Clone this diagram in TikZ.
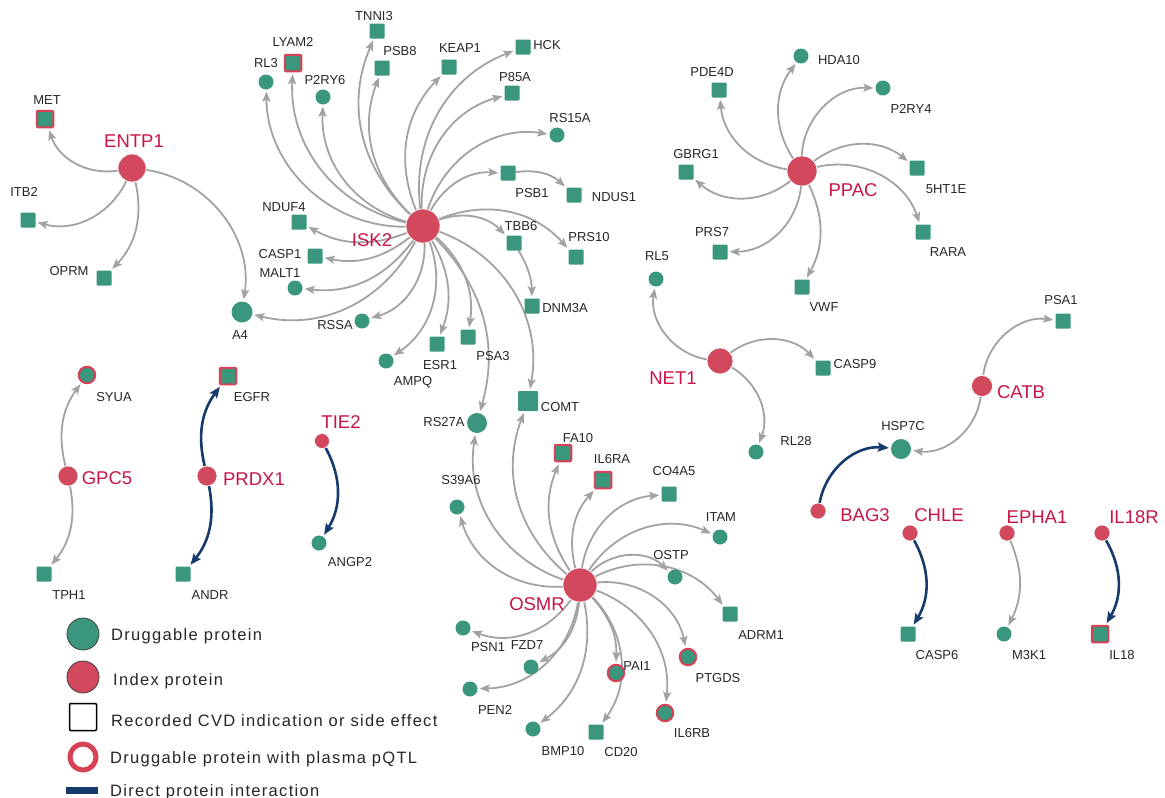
\documentclass[tikz,border=0pt]{standalone}
\usepackage{fontspec}
\setmainfont{Liberation Sans}
\newfontfamily\legfont[LetterSpace=8]{Liberation Sans}
\usetikzlibrary{arrows.meta}
\definecolor{drug}{RGB}{58,150,125}
\definecolor{hubred}{RGB}{210,72,92}
\definecolor{labred}{RGB}{200,20,70}
\definecolor{pqred}{RGB}{215,65,85}
\definecolor{edgegray}{RGB}{162,162,162}
\definecolor{navy}{RGB}{22,58,108}
\pgfdeclarelayer{bg}
\pgfsetlayers{bg,main}
\tikzset{
 dc/.style={circle, fill=drug, minimum size=15pt, inner sep=0pt},
 ds/.style={rectangle, fill=drug, minimum size=15pt, inner sep=0pt, rounded corners=1pt},
 pq/.style={draw=pqred, line width=2pt, minimum size=16.5pt},
 hub/.style={circle, fill=hubred, draw=white, line width=0.6pt, inner sep=0pt},
 lab/.style={font=\fontsize{13}{13}\selectfont, inner sep=0pt, text=black!85},
 hlab/.style={font=\fontsize{18.5}{18.5}\selectfont, inner sep=0pt, text=labred},
 leg/.style={font=\legfont\fontsize{16.5}{16.5}\selectfont, inner sep=0pt, text=black!85, anchor=base west},
 ge/.style={draw=edgegray, line width=1.8pt, -{Stealth[length=10pt,width=8pt,inset=2pt]}, shorten >=2pt, bend left=#1},
 ge/.default=35,
 be/.style={draw=navy, line width=2.6pt, -{Stealth[length=11pt,width=9pt,inset=2pt]}, shorten >=2pt, bend left=#1},
 be/.default=30
}
\begin{document}
\begin{tikzpicture}[x=1pt,y=-1pt]
\useasboundingbox (0,0) rectangle (1165,798);
% ENTP1 cluster
\node[hub, minimum size=28pt] (ENTP1) at (132,168) {};
\node[hlab] (tENTP1) at (134,141) {ENTP1};
\node[ds, pq] (MET) at (45,119) {}; \node[lab] (tMET) at (47,100) {MET};
\node[ds] (ITB2) at (28,220) {}; \node[lab] (tITB2) at (24,192) {ITB2};
\node[ds] (OPRM) at (104,278) {}; \node[lab] (tOPRM) at (69,271) {OPRM};
\node[dc, minimum size=21pt] (A4) at (242,312) {}; \node[lab] (tA4) at (240,335) {A4};
% ISK2 cluster
\node[hub, minimum size=34pt] (ISK2) at (423,226) {};
\node[hlab] (tISK2) at (372,240) {ISK2};
\node[dc] (RL3) at (266,82) {}; \node[lab] (tRL3) at (266,63) {RL3};
\node[ds, pq] (LYAM2) at (293,63) {}; \node[lab] (tLYAM2) at (293,42) {LYAM2};
\node[dc] (P2RY6) at (323,97) {}; \node[lab] (tP2RY6) at (325,80) {P2RY6};
\node[ds] (TNNI3) at (377,31) {}; \node[lab] (tTNNI3) at (374,16) {TNNI3};
\node[ds] (PSB8) at (382,68) {}; \node[lab] (tPSB8) at (400,51) {PSB8};
\node[ds] (KEAP1) at (449,67) {}; \node[lab] (tKEAP1) at (460,48) {KEAP1};
\node[ds] (HCK) at (523,47) {}; \node[lab] (tHCK) at (547,45) {HCK};
\node[ds] (P85A) at (512,93) {}; \node[lab] (tP85A) at (515,77) {P85A};
\node[dc] (RS15A) at (557,135) {}; \node[lab] (tRS15A) at (570,118) {RS15A};
\node[ds] (PSB1) at (508,173) {}; \node[lab] (tPSB1) at (532,193) {PSB1};
\node[ds] (NDUS1) at (574,195) {}; \node[lab] (tNDUS1) at (614,197) {NDUS1};
\node[ds] (NDUF4) at (299,222) {}; \node[lab] (tNDUF4) at (284,207) {NDUF4};
\node[ds] (CASP1) at (315,256) {}; \node[lab] (tCASP1) at (280,254) {CASP1};
\node[dc] (MALT1) at (295,288) {}; \node[lab] (tMALT1) at (280,273) {MALT1};
\node[dc] (RSSA) at (362,321) {}; \node[lab] (tRSSA) at (335,325) {RSSA};
\node[dc] (AMPQ) at (386,361) {}; \node[lab] (tAMPQ) at (413,382) {AMPQ};
\node[ds] (ESR1) at (437,344) {}; \node[lab] (tESR1) at (440,365) {ESR1};
\node[ds] (PSA3) at (468,337) {}; \node[lab] (tPSA3) at (493,356) {PSA3};
\node[ds] (TBB6) at (514,243) {}; \node[lab] (tTBB6) at (521,226) {TBB6};
\node[ds] (PRS10) at (576,257) {}; \node[lab] (tPRS10) at (589,237) {PRS10};
\node[ds] (DNM3A) at (532,306) {}; \node[lab] (tDNM3A) at (565,308) {DNM3A};
\node[ds, minimum size=20pt] (COMT) at (528,401) {}; \node[lab] (tCOMT) at (560,407) {COMT};
\node[dc, minimum size=20pt] (RS27A) at (477,423) {}; \node[lab] (tRS27A) at (444,422) {RS27A};
% PPAC cluster
\node[hub, minimum size=30pt] (PPAC) at (802,171) {};
\node[hlab] (tPPAC) at (853,190) {PPAC};
\node[dc] (HDA10) at (801,56) {}; \node[lab] (tHDA10) at (839,60) {HDA10};
\node[ds] (PDE4D) at (719,90) {}; \node[lab] (tPDE4D) at (712,72) {PDE4D};
\node[dc] (P2RY4) at (883,88) {}; \node[lab] (tP2RY4) at (911,109) {P2RY4};
\node[ds] (GBRG1) at (686,172) {}; \node[lab] (tGBRG1) at (696,154) {GBRG1};
\node[ds] (HTE) at (917,168) {}; \node[lab] (tHTE) at (946,189) {5HT1E};
\node[ds] (PRS7) at (720,252) {}; \node[lab] (tPRS7) at (712,232) {PRS7};
\node[ds] (RARA) at (923,232) {}; \node[lab] (tRARA) at (948,252) {RARA};
\node[ds] (VWF) at (802,287) {}; \node[lab] (tVWF) at (824,307) {VWF};
% NET1 cluster
\node[hub, minimum size=26pt] (NET1) at (720,361) {};
\node[hlab] (tNET1) at (673,378) {NET1};
\node[dc] (RL5) at (656,279) {}; \node[lab] (tRL5) at (657,256) {RL5};
\node[ds] (CASP9) at (823,368) {}; \node[lab] (tCASP9) at (855,364) {CASP9};
\node[dc] (RL28) at (756,452) {}; \node[lab] (tRL28) at (796,441) {RL28};
% CATB / BAG3
\node[hub, minimum size=21pt] (CATB) at (982,386) {};
\node[hlab] (tCATB) at (1021,392) {CATB};
\node[ds] (PSA1) at (1063,321) {}; \node[lab] (tPSA1) at (1061,300) {PSA1};
\node[dc, minimum size=20pt] (HSP7C) at (901,449) {}; \node[lab] (tHSP7C) at (903,426) {HSP7C};
\node[hub, minimum size=16pt] (BAG3) at (818,511) {};
\node[hlab] (tBAG3) at (865,515) {BAG3};
% small pairs right
\node[hub, minimum size=16pt] (CHLE) at (910,533) {}; \node[hlab] (tCHLE) at (939,515) {CHLE};
\node[ds] (CASP6) at (908,634) {}; \node[lab] (tCASP6) at (937,655) {CASP6};
\node[hub, minimum size=16pt] (EPHA1) at (1007,533) {}; \node[hlab] (tEPHA1) at (1037,517) {EPHA1};
\node[dc] (M3K1) at (1004,634) {}; \node[lab] (tM3K1) at (1029,655) {M3K1};
\node[hub, minimum size=16pt] (IL18R) at (1102,533) {}; \node[hlab] (tIL18R) at (1134,517) {IL18R};
\node[ds, pq] (IL18) at (1100,634) {}; \node[lab] (tIL18) at (1122,655) {IL18};
% left bottom
\node[hub, minimum size=20pt] (GPC5) at (68,476) {}; \node[hlab] (tGPC5) at (107,478) {GPC5};
\node[dc, pq] (SYUA) at (87,375) {}; \node[lab] (tSYUA) at (114,397) {SYUA};
\node[ds] (TPH1) at (44,574) {}; \node[lab] (tTPH1) at (69,595) {TPH1};
\node[hub, minimum size=20pt] (PRDX1) at (207,476) {}; \node[hlab] (tPRDX1) at (254,479) {PRDX1};
\node[ds, pq] (EGFR) at (228,376) {}; \node[lab] (tEGFR) at (252,397) {EGFR};
\node[ds] (ANDR) at (183,574) {}; \node[lab] (tANDR) at (210,595) {ANDR};
\node[hub, minimum size=15pt] (TIE2) at (322,441) {}; \node[hlab] (tTIE2) at (341,422) {TIE2};
\node[dc] (ANGP2) at (319,543) {}; \node[lab] (tANGP2) at (350,562) {ANGP2};
% OSMR cluster
\node[hub, minimum size=34pt] (OSMR) at (580,585) {};
\node[hlab] (tOSMR) at (537,604) {OSMR};
\node[dc] (S39A6) at (457,507) {}; \node[lab] (tS39A6) at (461,480) {S39A6};
\node[ds, pq] (FA10) at (563,453) {}; \node[lab] (tFA10) at (578,438) {FA10};
\node[ds, pq] (IL6RA) at (603,480) {}; \node[lab] (tIL6RA) at (612,459) {IL6RA};
\node[ds] (CO4A5) at (669,494) {}; \node[lab] (tCO4A5) at (674,471) {CO4A5};
\node[dc] (ITAM) at (720,537) {}; \node[lab] (tITAM) at (721,517) {ITAM};
\node[dc] (OSTP) at (675,577) {}; \node[lab] (tOSTP) at (671,555) {OSTP};
\node[ds] (ADRM1) at (730,614) {}; \node[lab] (tADRM1) at (761,635) {ADRM1};
\node[dc, pq] (PTGDS) at (688,657) {}; \node[lab] (tPTGDS) at (718,678) {PTGDS};
\node[dc, pq] (IL6RB) at (665,713) {}; \node[lab] (tIL6RB) at (692,733) {IL6RB};
\node[dc, pq] (PAI1) at (616,673) {}; \node[lab] (tPAI1) at (637,666) {PAI1};
\node[ds] (CD20) at (596,732) {}; \node[lab] (tCD20) at (621,752) {CD20};
\node[dc] (BMP10) at (533,729) {}; \node[lab] (tBMP10) at (563,751) {BMP10};
\node[dc] (PEN2) at (470,689) {}; \node[lab] (tPEN2) at (495,710) {PEN2};
\node[dc] (FZD7) at (531,667) {}; \node[lab] (tFZD7) at (527,645) {FZD7};
\node[dc] (PSN1) at (463,628) {}; \node[lab] (tPSN1) at (488,647) {PSN1};
% legend
\node[circle, fill=drug, draw=black!75, line width=0.8pt, minimum size=32pt, inner sep=0pt] (lg1) at (83,634) {};
\node[leg] (lt1) at (111,640) {Druggable protein};
\node[circle, fill=hubred, draw=black!75, line width=0.8pt, minimum size=32pt, inner sep=0pt] (lg2) at (83,677) {};
\node[leg] (lt2) at (113,685) {Index protein};
\node[rectangle, fill=white, draw=black, line width=1.5pt, minimum size=27pt, rounded corners=1pt, inner sep=0pt] (lg3) at (83,717) {};
\node[leg] (lt3) at (111,726) {Recorded CVD indication or side effect};
\node[circle, draw=pqred, line width=5pt, minimum size=26pt, inner sep=0pt] (lg4) at (83,757) {};
\node[leg] (lt4) at (110,763) {Druggable protein with plasma pQTL};
\node[rectangle, fill=navy, minimum width=32pt, minimum height=7pt, inner sep=0pt] (lg5) at (82,790) {};
\node[leg] (lt5) at (110,796) {Direct protein interaction};
\begin{pgfonlayer}{bg}
% ENTP1
\draw[ge=40] (ENTP1) to (MET);
\draw[ge=40] (ENTP1) to (ITB2);
\draw[ge=28] (ENTP1) to (OPRM);
\draw[ge=45] (ENTP1) to (A4);
% ISK2
\draw[ge=45] (ISK2) to (RL3);
\draw[ge=40] (ISK2) to (LYAM2);
\draw[ge=38] (ISK2) to (P2RY6);
\draw[ge=35] (ISK2) to (TNNI3);
\draw[ge=33] (ISK2) to (PSB8);
\draw[ge=33] (ISK2) to (KEAP1);
\draw[ge=38] (ISK2) to (HCK);
\draw[ge=38] (ISK2) to (P85A);
\draw[ge=40] (ISK2) to (RS15A);
\draw[ge=32] (ISK2) to (PSB1);
\draw[ge=25] (PSB1) to (NDUS1);
\draw[ge=32] (ISK2) to (TBB6);
\draw[ge=15] (TBB6) to (DNM3A);
\draw[ge=35] (ISK2) to (PRS10);
\draw[ge=40] (ISK2) to (COMT);
\draw[ge=30] (ISK2) to (RS27A);
\draw[ge=28] (ISK2) to (PSA3);
\draw[ge=25] (ISK2) to (ESR1);
\draw[ge=38] (ISK2) to (AMPQ);
\draw[ge=38] (ISK2) to (RSSA);
\draw[ge=38] (ISK2) to (A4);
\draw[ge=30] (ISK2) to (MALT1);
\draw[ge=25] (ISK2) to (CASP1);
\draw[ge=25] (ISK2) to (NDUF4);
% PPAC
\draw[ge=35] (PPAC) to (HDA10);
\draw[ge=38] (PPAC) to (PDE4D);
\draw[ge=45] (PPAC) to (P2RY4);
\draw[ge=40] (PPAC) to (GBRG1);
\draw[ge=38] (PPAC) to (HTE);
\draw[ge=42] (PPAC) to (PRS7);
\draw[ge=42] (PPAC) to (RARA);
\draw[ge=27] (PPAC) to (VWF);
% NET1
\draw[ge=45] (NET1) to (RL5);
\draw[ge=42] (NET1) to (CASP9);
\draw[ge=40] (NET1) to (RL28);
% CATB, BAG3
\draw[ge=45] (CATB) to (PSA1);
\draw[ge=45] (CATB) to (HSP7C);
\draw[be=42] (BAG3) to (HSP7C);
% right pairs
\draw[be=30] (CHLE) to (CASP6);
\draw[ge=25] (EPHA1) to (M3K1);
\draw[be=30] (IL18R) to (IL18);
% left bottom
\draw[ge=25] (GPC5) to (SYUA);
\draw[ge=25] (GPC5) to (TPH1);
\draw[be=25] (PRDX1) to (EGFR);
\draw[be=25] (PRDX1) to (ANDR);
\draw[be=30] (TIE2) to (ANGP2);
% OSMR
\draw[ge=40] (OSMR) to (RS27A);
\draw[ge=35] (OSMR) to (COMT);
\draw[ge=38] (OSMR) to (S39A6);
\draw[ge=28] (OSMR) to (FA10);
\draw[ge=28] (OSMR) to (IL6RA);
\draw[ge=38] (OSMR) to (CO4A5);
\draw[ge=40] (OSMR) to (ITAM);
\draw[ge=45] (OSMR) to (OSTP);
\draw[ge=40] (OSMR) to (ADRM1);
\draw[ge=42] (OSMR) to (PTGDS);
\draw[ge=38] (OSMR) to (IL6RB);
\draw[ge=22] (OSMR) to (PAI1);
\draw[ge=40] (OSMR) to (CD20);
\draw[ge=32] (OSMR) to (BMP10);
\draw[ge=40] (OSMR) to (PEN2);
\draw[ge=28] (OSMR) to (FZD7);
\draw[ge=38] (OSMR) to (PSN1);
\end{pgfonlayer}
\end{tikzpicture}
\end{document}
